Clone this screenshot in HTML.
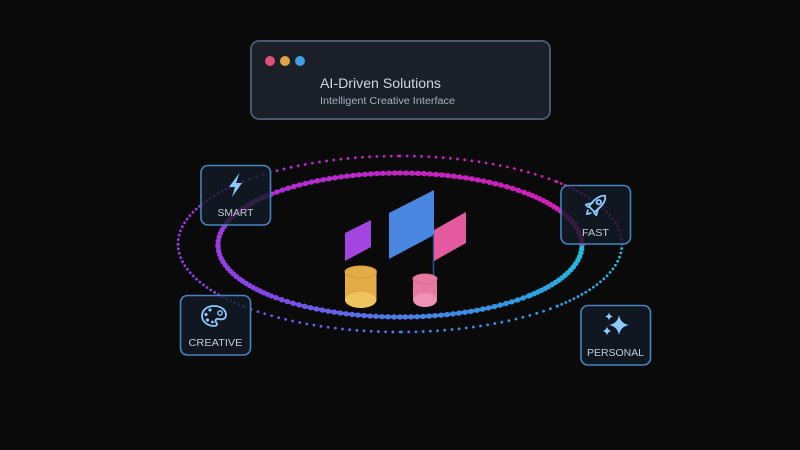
<!DOCTYPE html>
<html>
<head>
<meta charset="utf-8">
<style>
  html,body{margin:0;padding:0;background:#0a0a0a;}
  body{width:800px;height:450px;overflow:hidden;}
  svg{display:block;}
  text{font-family:"Liberation Sans", sans-serif;}
</style>
</head>
<body>
<svg width="800" height="450" viewBox="0 0 800 450" xmlns="http://www.w3.org/2000/svg">
  <defs>
    <!-- inner ring gradients -->
    <linearGradient id="i0" gradientUnits="userSpaceOnUse" x1="582" y1="245" x2="528.7" y2="295.9"><stop offset="0" stop-color="#1ec0dc"/><stop offset="1" stop-color="#2c9ee6"/></linearGradient>
    <linearGradient id="i1" gradientUnits="userSpaceOnUse" x1="528.7" y1="295.9" x2="400" y2="317"><stop offset="0" stop-color="#2c9ee6"/><stop offset="1" stop-color="#4a7ee6"/></linearGradient>
    <linearGradient id="i2" gradientUnits="userSpaceOnUse" x1="400" y1="317" x2="271.3" y2="295.9"><stop offset="0" stop-color="#4a7ee6"/><stop offset="1" stop-color="#7e48e6"/></linearGradient>
    <linearGradient id="i3" gradientUnits="userSpaceOnUse" x1="271.3" y1="295.9" x2="218" y2="245"><stop offset="0" stop-color="#7e48e6"/><stop offset="1" stop-color="#9a3ce0"/></linearGradient>
    <linearGradient id="i4" gradientUnits="userSpaceOnUse" x1="218" y1="245" x2="271.3" y2="194.1"><stop offset="0" stop-color="#9a3ce0"/><stop offset="1" stop-color="#ae30d6"/></linearGradient>
    <linearGradient id="i5" gradientUnits="userSpaceOnUse" x1="271.3" y1="194.1" x2="400" y2="173"><stop offset="0" stop-color="#ae30d6"/><stop offset="1" stop-color="#c224c6"/></linearGradient>
    <linearGradient id="i6" gradientUnits="userSpaceOnUse" x1="400" y1="173" x2="528.7" y2="194.1"><stop offset="0" stop-color="#c224c6"/><stop offset="1" stop-color="#cc20b8"/></linearGradient>
    <linearGradient id="i7" gradientUnits="userSpaceOnUse" x1="528.7" y1="194.1" x2="582" y2="245"><stop offset="0" stop-color="#cc20b8"/><stop offset="1" stop-color="#d41eb0"/></linearGradient>
    <!-- outer ring gradients -->
    <linearGradient id="o0" gradientUnits="userSpaceOnUse" x1="622" y1="244" x2="557" y2="306.2"><stop offset="0" stop-color="#1ec0dc"/><stop offset="1" stop-color="#2c9ee6"/></linearGradient>
    <linearGradient id="o1" gradientUnits="userSpaceOnUse" x1="557" y1="306.2" x2="400" y2="332"><stop offset="0" stop-color="#2c9ee6"/><stop offset="1" stop-color="#4a7ee6"/></linearGradient>
    <linearGradient id="o2" gradientUnits="userSpaceOnUse" x1="400" y1="332" x2="243" y2="306.2"><stop offset="0" stop-color="#4a7ee6"/><stop offset="1" stop-color="#7e48e6"/></linearGradient>
    <linearGradient id="o3" gradientUnits="userSpaceOnUse" x1="243" y1="306.2" x2="178" y2="244"><stop offset="0" stop-color="#7e48e6"/><stop offset="1" stop-color="#9a3ce0"/></linearGradient>
    <linearGradient id="o4" gradientUnits="userSpaceOnUse" x1="178" y1="244" x2="243" y2="181.8"><stop offset="0" stop-color="#9a3ce0"/><stop offset="1" stop-color="#ae30d6"/></linearGradient>
    <linearGradient id="o5" gradientUnits="userSpaceOnUse" x1="243" y1="181.8" x2="400" y2="156"><stop offset="0" stop-color="#ae30d6"/><stop offset="1" stop-color="#c224c6"/></linearGradient>
    <linearGradient id="o6" gradientUnits="userSpaceOnUse" x1="400" y1="156" x2="557" y2="181.8"><stop offset="0" stop-color="#c224c6"/><stop offset="1" stop-color="#cc20b8"/></linearGradient>
    <linearGradient id="o7" gradientUnits="userSpaceOnUse" x1="557" y1="181.8" x2="622" y2="244"><stop offset="0" stop-color="#cc20b8"/><stop offset="1" stop-color="#d41eb0"/></linearGradient>
  </defs>

  <rect width="800" height="450" fill="#0a0a0a"/>

  <!-- Header card -->
  <rect x="251" y="41" width="299" height="78" rx="8" fill="#1a1f28" stroke="#4a586a" stroke-width="2"/>
  <circle cx="270" cy="61" r="5" fill="#e0507a"/>
  <circle cx="285" cy="61" r="5" fill="#e0a444"/>
  <circle cx="300" cy="61" r="5" fill="#40a0e0"/>
  <text x="320" y="88" font-size="14" fill="#d2d6dc" textLength="121" lengthAdjust="spacingAndGlyphs">AI-Driven Solutions</text>
  <text x="320" y="104" font-size="10" fill="#a8b0c0" textLength="135" lengthAdjust="spacingAndGlyphs">Intelligent Creative Interface</text>

  <!-- Outer dotted ring -->
  <g fill="none" stroke-width="2.8" stroke-linecap="round">
    <path d="M622 244 A222 88 0 0 1 557 306.2" stroke="url(#o0)" stroke-dasharray="0 4.5"/>
    <path d="M557 306.2 A222 88 0 0 1 400 332" stroke="url(#o1)" stroke-dasharray="0 7.2"/>
    <path d="M400 332 A222 88 0 0 1 243 306.2" stroke="url(#o2)" stroke-dasharray="0 7.2"/>
    <path d="M243 306.2 A222 88 0 0 1 178 244" stroke="url(#o3)" stroke-dasharray="0 4.5"/>
    <path d="M178 244 A222 88 0 0 1 243 181.8" stroke="url(#o4)" stroke-dasharray="0 4.5"/>
    <path d="M243 181.8 A222 88 0 0 1 400 156" stroke="url(#o5)" stroke-dasharray="0 7.2"/>
    <path d="M400 156 A222 88 0 0 1 557 181.8" stroke="url(#o6)" stroke-dasharray="0 7.2"/>
    <path d="M557 181.8 A222 88 0 0 1 622 244" stroke="url(#o7)" stroke-dasharray="0 4.5"/>
  </g>

  <!-- Inner beaded ring: base line -->
  <g fill="none" stroke-width="3.2" stroke-linecap="round">
    <path d="M582 245 A182 72 0 0 1 528.7 295.9" stroke="url(#i0)"/>
    <path d="M528.7 295.9 A182 72 0 0 1 400 317" stroke="url(#i1)"/>
    <path d="M400 317 A182 72 0 0 1 271.3 295.9" stroke="url(#i2)"/>
    <path d="M271.3 295.9 A182 72 0 0 1 218 245" stroke="url(#i3)"/>
    <path d="M218 245 A182 72 0 0 1 271.3 194.1" stroke="url(#i4)"/>
    <path d="M271.3 194.1 A182 72 0 0 1 400 173" stroke="url(#i5)"/>
    <path d="M400 173 A182 72 0 0 1 528.7 194.1" stroke="url(#i6)"/>
    <path d="M528.7 194.1 A182 72 0 0 1 582 245" stroke="url(#i7)"/>
  </g>
  <!-- Inner beaded ring: beads -->
  <g fill="none" stroke-width="5.4" stroke-linecap="round">
    <path d="M582 245 A182 72 0 0 1 528.7 295.9" stroke="url(#i0)" stroke-dasharray="0 4"/>
    <path d="M528.7 295.9 A182 72 0 0 1 400 317" stroke="url(#i1)" stroke-dasharray="0 6"/>
    <path d="M400 317 A182 72 0 0 1 271.3 295.9" stroke="url(#i2)" stroke-dasharray="0 6"/>
    <path d="M271.3 295.9 A182 72 0 0 1 218 245" stroke="url(#i3)" stroke-dasharray="0 4"/>
    <path d="M218 245 A182 72 0 0 1 271.3 194.1" stroke="url(#i4)" stroke-dasharray="0 4"/>
    <path d="M271.3 194.1 A182 72 0 0 1 400 173" stroke="url(#i5)" stroke-dasharray="0 6"/>
    <path d="M400 173 A182 72 0 0 1 528.7 194.1" stroke="url(#i6)" stroke-dasharray="0 6"/>
    <path d="M528.7 194.1 A182 72 0 0 1 582 245" stroke="url(#i7)" stroke-dasharray="0 4"/>
  </g>

  <!-- Central music-note logo -->
  <polygon points="345,233 371,220 371,247 345,261" fill="#a346df"/>
  <polygon points="389,213 434,190 434,235 389,259" fill="#4a87e0"/>
  <line x1="433.5" y1="234" x2="433.5" y2="277" stroke="#2b4f8c" stroke-width="1.6"/>
  <polygon points="434,230 466,212 466,243 434,261" fill="#e35a9e"/>

  <!-- yellow cylinder -->
  <rect x="345" y="272" width="31.5" height="29" fill="#e3ab45"/>
  <ellipse cx="360.75" cy="300" rx="15.75" ry="8" fill="#eec460"/>
  <ellipse cx="360.75" cy="272" rx="15.75" ry="6" fill="#e3ab45" stroke="#d89c3a" stroke-width="1"/>

  <!-- pink cylinder -->
  <rect x="413" y="279" width="24" height="21" fill="#e67aa0"/>
  <ellipse cx="425" cy="300" rx="12" ry="7" fill="#ef92b6"/>
  <ellipse cx="425" cy="279" rx="12" ry="5" fill="#e67aa0" stroke="#d96a92" stroke-width="1"/>

  <!-- Node boxes -->
  <g fill="rgba(20,27,38,0.82)" stroke="#4584bf" stroke-width="1.6">
    <rect x="201" y="165.5" width="69.5" height="59.5" rx="7"/>
    <rect x="561" y="185.5" width="69.5" height="58.5" rx="7"/>
    <rect x="180.5" y="295.5" width="70" height="59.5" rx="7"/>
    <rect x="581" y="305.5" width="69.5" height="59.5" rx="7"/>
  </g>

  <!-- SMART: lightning -->
  <path d="M239.5 173 L229 187 L235 187 L232 197 L242 183 L236 183 Z" fill="#8ccbff"/>
  <!-- FAST: rocket -->
  <g transform="translate(596,205) rotate(45)" fill="none" stroke="#8ccbff" stroke-width="1.8" stroke-linejoin="round" stroke-linecap="round">
    <path d="M0 -13 C5 -9 5 -2 4 6 L-4 6 C-5 -2 -5 -9 0 -13 Z"/>
    <circle cx="0" cy="-4" r="2.2"/>
    <path d="M-4 1 L-7.5 7 L-4 7"/>
    <path d="M4 1 L7.5 7 L4 7"/>
    <path d="M-2 9.5 L0 13 L2 9.5"/>
  </g>
  <!-- CREATIVE: palette -->
  <g transform="translate(214,316)">
    <path d="M0 -10 C7 -10 12 -6 12 -1 C12 3 8 4 5 3 C2 2 0.5 5 2.5 7 C4 9 2 10 0 10 C-7 10 -12 5 -12 0 C-12 -6 -7 -10 0 -10 Z" fill="none" stroke="#8ccbff" stroke-width="1.8" stroke-linejoin="round"/>
    <circle cx="6" cy="-3" r="2.2" fill="none" stroke="#8ccbff" stroke-width="1.4"/>
    <circle cx="-4" cy="-6" r="1.6" fill="#8ccbff"/>
    <circle cx="-8" cy="-1.5" r="1.6" fill="#8ccbff"/>
    <circle cx="-6.5" cy="4" r="1.6" fill="#8ccbff"/>
    <circle cx="-1.5" cy="6" r="1.4" fill="#8ccbff"/>
  </g>
  <!-- PERSONAL: sparkles -->
  <g fill="#8ccbff">
    <path d="M619 315 Q620.5 323.5 629 325 Q620.5 326.5 619 335 Q617.5 326.5 609 325 Q617.5 323.5 619 315 Z"/>
    <path d="M609 312.5 Q609.6 315.9 613 316.5 Q609.6 317.1 609 320.5 Q608.4 317.1 605 316.5 Q608.4 315.9 609 312.5 Z"/>
    <path d="M607 326.5 Q607.7 330.3 611.5 331 Q607.7 331.7 607 335.5 Q606.3 331.7 602.5 331 Q606.3 330.3 607 326.5 Z"/>
  </g>

  <!-- Labels -->
  <g font-size="10.5" fill="#c4cad4" text-anchor="middle">
    <text x="235.5" y="216" textLength="36" lengthAdjust="spacingAndGlyphs">SMART</text>
    <text x="595.5" y="236" textLength="27" lengthAdjust="spacingAndGlyphs">FAST</text>
    <text x="215.5" y="346" textLength="54" lengthAdjust="spacingAndGlyphs">CREATIVE</text>
    <text x="615.5" y="356" textLength="57" lengthAdjust="spacingAndGlyphs">PERSONAL</text>
  </g>
</svg>
</body>
</html>
